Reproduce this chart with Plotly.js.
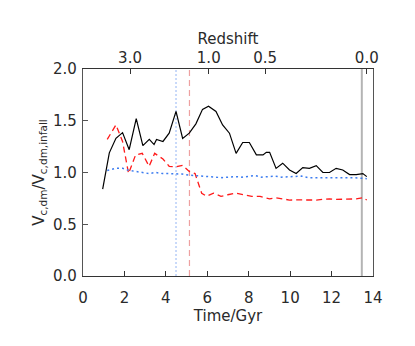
<!DOCTYPE html>
<html>
<head>
<meta charset="utf-8">
<script src="https://cdn.plot.ly/plotly-3.0.1.min.js"></script>
<style>
  html, body { margin: 0; padding: 0; background: #fff; }
  #plot { width: 415px; height: 346px; }
</style>
</head>
<body>
<div id="plot"></div>
<script>
// Black solid: V_c,dm ratio of main sample
const tBlack = [0.95, 1.27, 1.59, 1.91, 2.23, 2.57, 2.89, 3.20, 3.43, 3.55, 3.86, 4.16, 4.49, 4.81, 5.13, 5.45, 5.77, 6.06, 6.42, 6.74, 7.07, 7.39, 7.71, 8.03, 8.37, 8.69, 8.85, 9.01, 9.32, 9.64, 9.97, 10.29, 10.61, 10.93, 11.26, 11.58, 11.90, 12.22, 12.54, 12.87, 13.19, 13.51, 13.70];
const vBlack = [0.84, 1.19, 1.33, 1.385, 1.22, 1.52, 1.26, 1.32, 1.27, 1.32, 1.30, 1.38, 1.59, 1.33, 1.38, 1.47, 1.61, 1.64, 1.59, 1.46, 1.38, 1.185, 1.29, 1.29, 1.17, 1.17, 1.195, 1.195, 1.04, 1.09, 1.024, 0.99, 1.047, 1.04, 1.066, 1.00, 1.00, 1.04, 1.024, 0.98, 0.98, 0.99, 0.96];

// Red dashed
const tRed = [1.17, 1.59, 1.91, 2.20, 2.54, 2.86, 3.19, 3.46, 3.86, 4.16, 4.49, 4.81, 5.13, 5.41, 5.73, 5.97, 6.30, 6.66, 6.99, 7.37, 7.75, 8.15, 8.55, 9.01, 9.32, 9.65, 9.97, 10.29, 10.61, 10.93, 11.26, 11.58, 11.90, 12.22, 12.54, 12.87, 13.19, 13.51, 13.70];
const vRed = [1.32, 1.46, 1.30, 0.99, 1.17, 1.185, 1.06, 1.185, 1.13, 1.06, 1.055, 1.07, 1.01, 0.99, 0.80, 0.77, 0.80, 0.77, 0.785, 0.80, 0.785, 0.77, 0.77, 0.745, 0.755, 0.745, 0.734, 0.735, 0.734, 0.735, 0.734, 0.74, 0.745, 0.74, 0.74, 0.74, 0.745, 0.757, 0.734];

// Blue dotted
const tBlue = [1.17, 1.59, 1.91, 2.23, 2.55, 2.87, 3.19, 3.51, 3.83, 4.15, 4.47, 4.79, 5.11, 5.43, 5.75, 6.07, 6.39, 6.71, 7.03, 7.35, 7.67, 7.99, 8.31, 8.63, 8.95, 9.27, 9.59, 9.91, 10.23, 10.55, 10.87, 11.19, 11.51, 11.83, 12.15, 12.47, 12.79, 13.11, 13.43, 13.70];
const vBlue = [1.02, 1.04, 1.04, 1.02, 1.01, 1.00, 0.99, 1.00, 0.99, 0.99, 0.99, 0.985, 0.975, 0.97, 0.965, 0.96, 0.955, 0.95, 0.955, 0.96, 0.955, 0.96, 0.97, 0.955, 0.96, 0.965, 0.955, 0.96, 0.96, 0.965, 0.95, 0.95, 0.95, 0.955, 0.955, 0.955, 0.955, 0.95, 0.945, 0.94];

// Vertical marker times (Gyr)
const markerTimes = [4.49, 5.14, 13.46];
const markerColors = ["#a6c2f6", "#eea0a0", "#b4b4b4"];
const markerDash = ["2px,2px", "6px,4px", "solid"];
const markerWidth = [1.2, 1.2, 2];

// Top axis: redshift labels at cosmic time positions
const zLabels = ["3.0", "1.0", "0.5", "0.0"];
const zTimes = [2.27, 6.07, 8.79, 13.70];

const font = {family: "DejaVu Sans, sans-serif", size: 15, color: "#2a2a2a"};

const traces = [
  {x: tBlack, y: vBlack, mode: "lines", line: {color: "#000", width: 1.2}, xaxis: "x", yaxis: "y"},
  {x: tRed, y: vRed, mode: "lines", line: {color: "#ff1a1a", width: 1.3, dash: "6px,4px"}, xaxis: "x", yaxis: "y"},
  {x: tBlue, y: vBlue, mode: "lines", line: {color: "#3c7cf0", width: 1.5, dash: "2px,3px"}, xaxis: "x", yaxis: "y"},
  {x: [0, 14], y: [null, null], mode: "lines", xaxis: "x2", yaxis: "y", hoverinfo: "skip"}
];

const shapes = markerTimes.map((t, i) => ({
  type: "line", xref: "x", yref: "paper", x0: t, x1: t, y0: 0, y1: 1,
  line: {color: markerColors[i], width: markerWidth[i], dash: markerDash[i]},
  layer: "below"
}));

Plotly.newPlot("plot", traces, {
  width: 415, height: 346,
  margin: {l: 83, r: 42, t: 69, b: 70},
  paper_bgcolor: "#fff", plot_bgcolor: "#fff",
  showlegend: false,
  font: font,
  xaxis: {
    range: [0, 14], tickvals: [0, 2, 4, 6, 8, 10, 12, 14],
    ticks: "inside", ticklen: 5, tickcolor: "#333", ticklabelstandoff: 8,
    showline: true, linecolor: "#333", linewidth: 1.2, mirror: true,
    showgrid: false, zeroline: false,
    title: {text: "Time/Gyr", standoff: 2, font: font}
  },
  xaxis2: {
    range: [0, 14], overlaying: "x", side: "top",
    tickvals: zTimes, ticktext: zLabels,
    ticks: "inside", ticklen: 5, tickcolor: "#333", ticklabelstandoff: 2,
    showline: false, showgrid: false, zeroline: false,
    title: {text: "Redshift", standoff: 0, font: font}
  },
  yaxis: {
    range: [0, 2], tickvals: [0, 0.5, 1, 1.5, 2], ticktext: ["0.0", "0.5", "1.0", "1.5", "2.0"],
    ticks: "inside", ticklen: 5, tickcolor: "#555", ticklabelstandoff: 2,
    showline: true, linecolor: "#555", linewidth: 1.2, mirror: true,
    showgrid: false, zeroline: false,
    title: {text: "V<sub>c,dm</sub>/V<sub>c,dm,infall</sub>", standoff: 4, font: font}
  },
  shapes: shapes
}, {displayModeBar: false, staticPlot: true});
</script>
</body>
</html>
